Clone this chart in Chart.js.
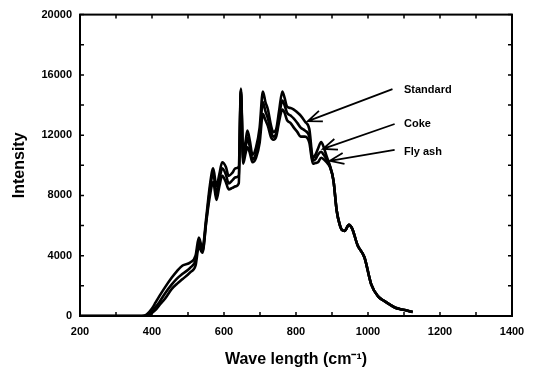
<!DOCTYPE html>
<html>
<head>
<meta charset="utf-8">
<script src="https://cdn.jsdelivr.net/npm/chart.js@4"></script>
<style>
  html, body { margin: 0; padding: 0; background: #fff; }
  #wrap { width: 537px; height: 371px; }
</style>
</head>
<body>
<div id="wrap"><canvas id="spectrum"></canvas></div>
<script>
// wave length (cm-1), shared by the three spectra
const wave = [200, 300, 372, 385, 400, 410, 420, 436, 455, 470, 485, 506, 521, 530, 540, 551, 561, 570, 579, 587,
  595, 605, 613, 623, 632, 641, 647, 653, 660, 665, 672, 679, 689, 699, 708, 715, 722, 730, 737, 745,
  753, 762, 768, 775, 785, 794, 804, 813, 825, 837, 847, 854, 861, 870, 877, 885, 894, 904, 913, 921,
  928, 935, 947, 956, 971, 990, 1009, 1028, 1045, 1061, 1076, 1090, 1105, 1124];

const standard = [0, 0, 0, 100, 500, 900, 1300, 1900, 2550, 3000, 3350, 3550, 4000, 5200, 4500, 6600, 8700, 9800, 8600, 9400,
  10200, 9900, 9300, 9500, 9800, 9900, 15100, 10800, 11600, 12300, 11600, 10700, 11200, 12500, 14900, 14200, 13700, 12700, 12200, 12400,
  13600, 14900, 14500, 13900, 13800, 13700, 13500, 13300, 12900, 12400, 10500, 10700, 11100, 11550, 11200, 10600, 10000, 9000, 7000, 6100,
  5700, 5650, 6050, 5800, 4700, 3900, 2100, 1300, 1000, 750, 550, 450, 380, 260];

const coke = [0, 0, 0, 50, 300, 600, 900, 1500, 2100, 2500, 2800, 3200, 3700, 4900, 4300, 6400, 8400, 9500, 8100, 9000,
  9800, 9400, 8800, 9000, 9200, 9300, 15000, 10400, 11200, 11800, 11200, 10400, 10800, 12000, 14200, 13600, 13100, 12300, 11900, 12100,
  13200, 14300, 14000, 13500, 13300, 13100, 12800, 12500, 12300, 11900, 10300, 10400, 10700, 10900, 10700, 10400, 9950, 9000, 7000, 6100,
  5700, 5650, 6050, 5800, 4700, 3900, 2100, 1300, 1000, 750, 550, 450, 380, 260];

const flyAsh = [0, 0, 0, 0, 200, 400, 700, 1150, 1800, 2150, 2450, 2900, 3350, 4600, 4200, 6300, 8000, 8900, 7700, 8600,
  9300, 8900, 8400, 8500, 8600, 8800, 14900, 10100, 10800, 11200, 10800, 10200, 10500, 11500, 13400, 13000, 12600, 11900, 11700, 11900,
  12900, 13700, 13500, 13000, 12800, 12500, 12200, 11900, 11900, 11500, 10100, 10150, 10200, 10500, 10400, 10200, 9900, 9000, 7000, 6100,
  5700, 5650, 6050, 5800, 4700, 3900, 2100, 1300, 1000, 750, 550, 450, 380, 260];

// arrow callouts, in data units: label, tail (x, y), tip (x, y)
const calloutLabels = ['Standard', 'Coke', 'Fly ash'];
const calloutTail = [[1068, 15050], [1074, 12740], [1074, 11030]];
const calloutTip = [[833, 12937], [875, 11090], [894, 10300]];
const calloutText = [[1100, 14980], [1100, 12740], [1100, 10890]];

const FONT = '"Liberation Sans", Arial, sans-serif';

function pts(ys) { return wave.map((x, i) => ({ x, y: ys[i] })); }

function line(label, ys) {
    return {
        label,
        data: pts(ys),
        borderColor: '#000',
        borderWidth: 2.6,
        pointRadius: 0,
        cubicInterpolationMode: 'monotone',
        fill: false
    };
}

// frame, inward ticks and arrow callouts
const decor = {
    id: 'decor',
    afterDraw(chart) {
        const { ctx, chartArea: a, scales: { x, y } } = chart;
        ctx.save();
        ctx.strokeStyle = '#000';
        ctx.lineWidth = 2;
        ctx.strokeRect(a.left, a.top, a.right - a.left, a.bottom - a.top);

        ctx.lineWidth = 1.5;
        ctx.beginPath();
        x.ticks.forEach(t => {
            const px = x.getPixelForValue(t.value);
            ctx.moveTo(px, a.bottom); ctx.lineTo(px, a.bottom - 4);
            ctx.moveTo(px, a.top); ctx.lineTo(px, a.top + 4);
        });
        y.ticks.forEach(t => {
            const py = y.getPixelForValue(t.value);
            ctx.moveTo(a.left, py); ctx.lineTo(a.left + 4, py);
            ctx.moveTo(a.right, py); ctx.lineTo(a.right - 4, py);
        });
        ctx.stroke();

        ctx.lineWidth = 1.8;
        ctx.fillStyle = '#000';
        ctx.font = 'bold 11px ' + FONT;
        ctx.textBaseline = 'middle';
        calloutLabels.forEach((lab, i) => {
            const x0 = x.getPixelForValue(calloutTail[i][0]), y0 = y.getPixelForValue(calloutTail[i][1]);
            const x1 = x.getPixelForValue(calloutTip[i][0]), y1 = y.getPixelForValue(calloutTip[i][1]);
            const ang = Math.atan2(y0 - y1, x0 - x1);
            const len = 15, spread = 0.38;
            ctx.beginPath();
            ctx.moveTo(x0, y0); ctx.lineTo(x1, y1);
            ctx.moveTo(x1 + len * Math.cos(ang + spread), y1 + len * Math.sin(ang + spread));
            ctx.lineTo(x1, y1);
            ctx.lineTo(x1 + len * Math.cos(ang - spread), y1 + len * Math.sin(ang - spread));
            ctx.stroke();
            ctx.fillText(lab, x.getPixelForValue(calloutText[i][0]), y.getPixelForValue(calloutText[i][1]));
        });
        ctx.restore();
    }
};

new Chart(document.getElementById('spectrum'), {
    type: 'line',
    data: { datasets: [line('Standard', standard), line('Coke', coke), line('Fly ash', flyAsh)] },
    options: {
        responsive: true,
        maintainAspectRatio: false,
        animation: false,
        layout: { padding: { top: 13, right: 25, left: 0, bottom: 0 } },
        plugins: { legend: { display: false }, tooltip: { enabled: false } },
        scales: {
            x: {
                type: 'linear',
                min: 200, max: 1400,
                grid: { display: false, drawTicks: false },
                border: { display: false },
                ticks: {
                    stepSize: 100, autoSkip: false, maxRotation: 0, padding: 9,
                    color: '#000', font: { family: FONT, size: 11, weight: 'bold' },
                    callback: v => (v % 200 === 0 ? v : '')
                },
                title: {
                    display: true, text: 'Wave length (cm\u207B\u00B9)', color: '#000',
                    font: { family: FONT, size: 16, weight: 'bold' },
                    padding: { top: 4, bottom: 2 }
                },
                afterFit(s) { s.height = 55; }
            },
            y: {
                min: 0, max: 20000,
                grid: { display: false, drawTicks: false },
                border: { display: false },
                ticks: {
                    stepSize: 2000, autoSkip: false, padding: 8,
                    color: '#000', font: { family: FONT, size: 11, weight: 'bold' },
                    callback: v => (v % 4000 === 0 ? v : '')
                },
                title: {
                    display: true, text: 'Intensity', color: '#000',
                    font: { family: FONT, size: 16, weight: 'bold' },
                    padding: { top: 10, bottom: 0 }
                },
                afterFit(s) { s.width = 80; }
            }
        }
    },
    plugins: [decor]
});
</script>
</body>
</html>
